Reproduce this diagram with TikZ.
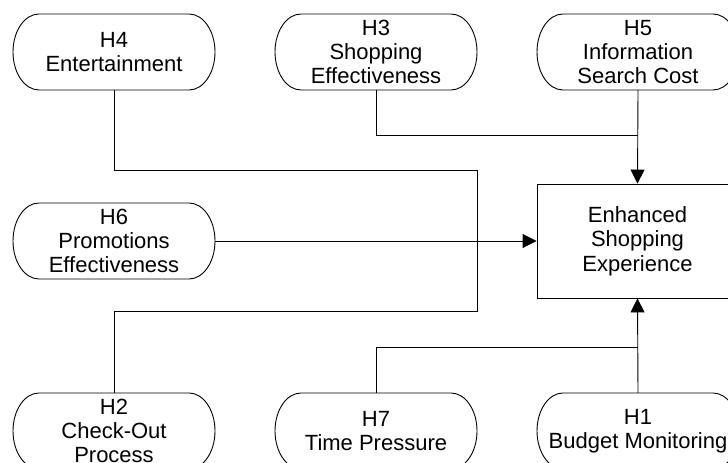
\documentclass[tikz,border=0pt]{standalone}
\usepackage{fontspec}
\setmainfont{Liberation Sans}
\usetikzlibrary{arrows.meta}

\begin{document}
\begin{tikzpicture}[x=1pt,y=1pt,
        hyp/.style={inner sep=0pt,minimum width=202pt,minimum height=76pt,align=center,
            font=\fontsize{22}{24}\selectfont},
        outline/.style={line width=0.9pt},
        link/.style={line width=0.9pt},
        arrow/.style={link,-{Triangle[length=14pt,width=14pt]}}]
        \useasboundingbox (0,0) rectangle (728,463);

        % hypotheses, drawn as terminals with elliptic ends
        \foreach \n/\x/\y/\t in {h4/114/411/{H4\\Entertainment},
                                 h3/376/411/{H3\\Shopping\\Effectiveness},
                                 h5/638/411/{H5\\Information\\Search Cost},
                                 h6/114/222/{H6\\Promotions\\Effectiveness},
                                 h2/114/32/{H2\\Check-Out\\Process},
                                 h7/376/32/{H7\\Time Pressure},
                                 h1/638/32/{H1\\Budget Monitoring}}{
            \node[hyp] (\n) at (\x,\y) {\t};
            \draw[outline] (\x-75,\y+38) -- (\x+75,\y+38)
                arc[start angle=90,end angle=-90,x radius=26,y radius=38]
                -- (\x-75,\y-38)
                arc[start angle=270,end angle=90,x radius=26,y radius=38] -- cycle;
        }

        \node[draw,outline,inner sep=0pt,minimum width=201pt,minimum height=114pt,align=center,
            font=\fontsize{22}{24.5}\selectfont] (exp) at (637.5,222) {Enhanced\\Shopping\\Experience};

        \coordinate (bendA) at (477,293);
        \coordinate (bendB) at (477,152);
        \coordinate (joinTop) at (638,328);
        \coordinate (joinBot) at (638,116);

        \draw[link] (h4.south) |- (bendA) -- (bendB) -| (h2.north);
        \draw[link] (h3.south) |- (joinTop);
        \draw[arrow] (h5.south) -- (exp.north);
        \draw[arrow] (h6.east) -- (exp.west);
        \draw[link] (h7.north) |- (joinBot);
        \draw[arrow] (h1.north) -- (exp.south);
    \end{tikzpicture}
\end{document}
